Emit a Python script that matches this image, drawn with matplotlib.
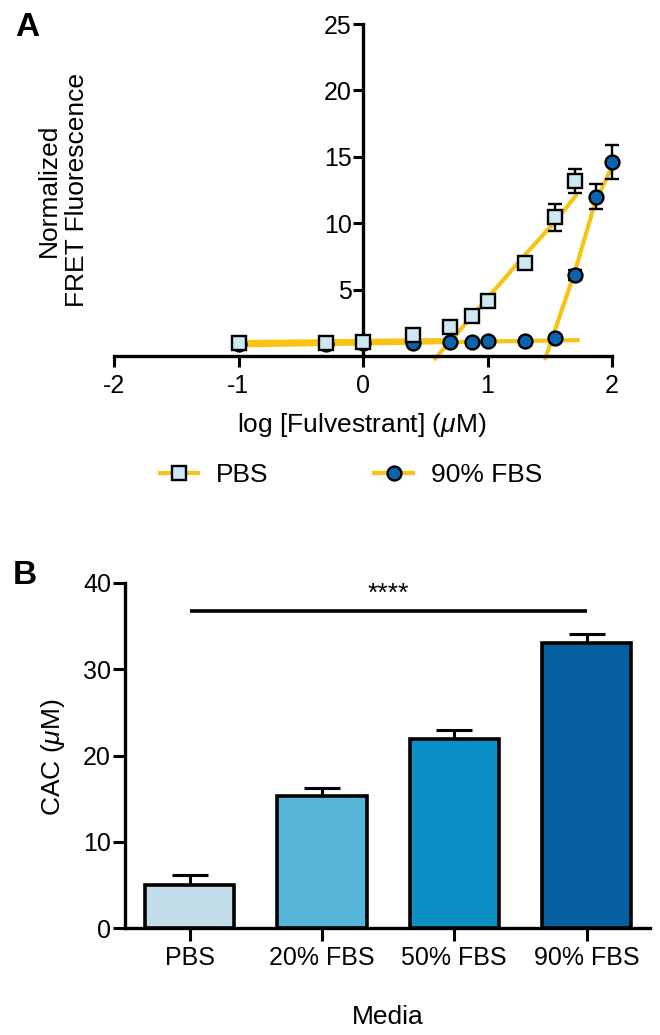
import matplotlib
matplotlib.use('Agg')
import matplotlib.pyplot as plt
from matplotlib.lines import Line2D

plt.rcParams['font.family'] = ['Liberation Sans', 'DejaVu Sans']
plt.rcParams['mathtext.fontset'] = 'custom'
plt.rcParams['mathtext.rm'] = 'Liberation Sans'
plt.rcParams['mathtext.it'] = 'Liberation Sans:italic'
plt.rcParams['axes.unicode_minus'] = False

# ---------------- Panel A data ----------------
pbs_logc = [-1.0, -0.301, 0.0, 0.398, 0.699, 0.875, 1.0, 1.301, 1.544, 1.699]
pbs_fret = [1.0, 1.0, 1.08, 1.55, 2.2, 3.0, 4.15, 7.0, 10.45, 13.2]
pbs_err = [0.1, 0.1, 0.1, 0.3, 0.2, 0.15, 0.15, 0.35, 1.0, 0.9]

fbs_logc = [-1.0, -0.301, 0.0, 0.398, 0.699, 0.875, 1.0, 1.301, 1.544, 1.699, 1.875, 2.0]
fbs_fret = [0.9, 0.9, 0.95, 1.0, 1.08, 1.08, 1.1, 1.1, 1.38, 6.1, 12.0, 14.6]
fbs_err = [0.05, 0.05, 0.05, 0.05, 0.05, 0.05, 0.05, 0.05, 0.1, 0.35, 0.95, 1.3]

# fitted segments
pbs_base_x = [-1.0, 0.65]
pbs_base_y = [1.05, 1.2]
fbs_base_x = [-1.0, 1.74]
fbs_base_y = [0.8, 1.2]
pbs_rise_x = [0.57, 1.30, 1.55, 1.72]
pbs_rise_y = [-0.3, 7.6, 10.2, 12.2]
fbs_rise_x = [1.46, 1.70, 1.86, 2.0]
fbs_rise_y = [-0.3, 6.3, 11.4, 14.3]

xticks_a = [-2, -1, 0, 1, 2]
yticks_a = [5, 10, 15, 20, 25]

# ---------------- Panel B data ----------------
media = ['PBS', '20% FBS', '50% FBS', '90% FBS']
cac = [5.0, 15.3, 21.9, 33.1]
cac_err = [1.2, 0.95, 1.05, 0.95]
bar_colors = ['#c1dde9', '#56b6d8', '#0b8fc4', '#0460a0']
sig_y = 36.7
sig_text = '****'

yellow = '#F8C313'
pbs_face = '#cde8f3'
fbs_face = '#0b63ad'

FS_TICK = 18
FS_LAB = 19

fig = plt.figure(figsize=(6.6, 10.35), dpi=100)

# ---------------- Panel A ----------------
axA = fig.add_axes([114 / 660, (1035 - 369.3) / 1035, 498 / 660, 345.3 / 1035])
axA.set_xlim(-2, 2)
axA.set_ylim(-1, 25)

lw_fit = 3.0
axA.plot(fbs_base_x, fbs_base_y, color=yellow, lw=lw_fit, solid_capstyle='butt', zorder=2)
axA.plot(pbs_base_x, pbs_base_y, color=yellow, lw=lw_fit, solid_capstyle='butt', zorder=2)
axA.plot(pbs_rise_x, pbs_rise_y, color=yellow, lw=lw_fit, solid_capstyle='butt', zorder=2, clip_on=False)
axA.plot(fbs_rise_x, fbs_rise_y, color=yellow, lw=lw_fit, solid_capstyle='butt', zorder=2, clip_on=False)

axA.errorbar(fbs_logc, fbs_fret, yerr=fbs_err, fmt='o', ms=10, mfc=fbs_face, mec='black',
             mew=1.7, ecolor='black', elinewidth=1.7, capsize=5, capthick=1.7,
             zorder=3, clip_on=False)
axA.errorbar(pbs_logc, pbs_fret, yerr=pbs_err, fmt='s', ms=10, mfc=pbs_face, mec='black',
             mew=1.7, ecolor='black', elinewidth=1.7, capsize=5, capthick=1.7,
             zorder=4, clip_on=False)

for s in ['top', 'right']:
    axA.spines[s].set_visible(False)
axA.spines['left'].set_position(('data', 0))
axA.spines['bottom'].set_position(('data', 0))
axA.spines['left'].set_bounds(0, 25)
axA.spines['bottom'].set_bounds(-2, 2)
for s in ['left', 'bottom']:
    axA.spines[s].set_linewidth(2.4)
axA.set_xticks(xticks_a)
axA.set_xticklabels([str(t) for t in xticks_a])
axA.set_yticks(yticks_a)
axA.set_yticklabels([str(t) for t in yticks_a])
axA.tick_params(axis='both', direction='out', width=2.2, labelsize=FS_TICK)
axA.tick_params(axis='x', length=8, pad=5)
axA.tick_params(axis='y', length=7, pad=1)

fig.text(63 / 660, 1 - 190 / 1035, 'Normalized\nFRET Fluorescence', rotation=90,
         ha='center', va='center', fontsize=FS_LAB, linespacing=1.2)
fig.text(362 / 660, 1 - 425 / 1035, r'log [Fulvestrant] ($\mu$M)', ha='center', va='center',
         fontsize=FS_LAB)
fig.text(27 / 660, 1 - 27 / 1035, 'A', fontsize=24, fontweight='bold', ha='center', va='center')

h_pbs = Line2D([], [], color=yellow, lw=3, marker='s', ms=10, mfc=pbs_face, mec='black', mew=1.7)
h_fbs = Line2D([], [], color=yellow, lw=3, marker='o', ms=10, mfc=fbs_face, mec='black', mew=1.7)
fig.legend([h_pbs, h_fbs], ['PBS', '90% FBS'], loc='center',
           bbox_to_anchor=(351 / 660, 1 - 475 / 1035), ncol=2, frameon=False,
           fontsize=FS_LAB, handlelength=1.45, columnspacing=4.0, handletextpad=0.7,
           borderpad=0, borderaxespad=0)

# ---------------- Panel B ----------------
axB = fig.add_axes([125 / 660, (1035 - 928) / 1035, 525 / 660, 345 / 1035])
pos = list(range(len(media)))
axB.bar(pos, cac, width=0.675, color=bar_colors, edgecolor='black', linewidth=2.6, zorder=3)
axB.errorbar(pos, cac, yerr=[[0] * len(cac), cac_err], fmt='none', ecolor='black',
             elinewidth=2.2, capsize=13, capthick=2.2, zorder=2)
axB.set_xlim(-0.49, 3.48)
axB.set_ylim(0, 40)
for s in ['top', 'right']:
    axB.spines[s].set_visible(False)
for s in ['left', 'bottom']:
    axB.spines[s].set_linewidth(2.4)
axB.set_xticks(pos)
axB.set_xticklabels(media)
axB.set_yticks([0, 10, 20, 30, 40])
axB.tick_params(axis='both', direction='out', width=2.2, labelsize=FS_TICK)
axB.tick_params(axis='x', length=9, pad=4)
axB.tick_params(axis='y', length=9, pad=1)

axB.plot([pos[0], pos[-1]], [sig_y, sig_y], color='black', lw=2.6, solid_capstyle='butt',
         clip_on=False)
axB.text((pos[0] + pos[-1]) / 2, 37.9, sig_text, ha='center', va='baseline',
         fontsize=19, clip_on=False)

fig.text(53 / 660, 1 - 757 / 1035, r'CAC ($\mu$M)', rotation=90, ha='center', va='center',
         fontsize=FS_LAB)
fig.text(388 / 660, 1 - 1017 / 1035, 'Media', ha='center', va='center', fontsize=FS_LAB)
fig.text(25 / 660, 1 - 575 / 1035, 'B', fontsize=24, fontweight='bold', ha='center', va='center')

fig.savefig('out.png', dpi=100)
